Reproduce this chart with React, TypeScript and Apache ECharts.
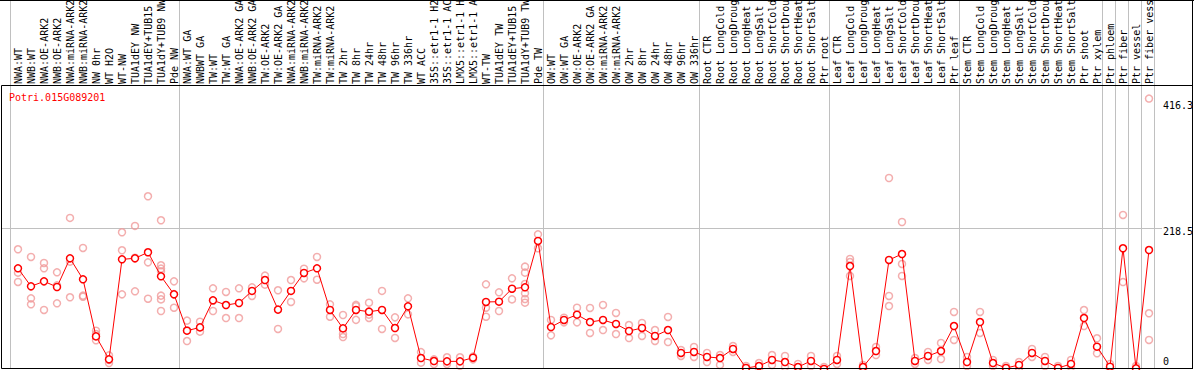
import React, { useEffect, useRef } from "react";
import * as echarts from "echarts";

const geneId = "Potri.015G089201";

const categories: string[] = [
  "NWA:WT", "NWB:WT", "NWA:OE-ARK2", "NWB:OE-ARK2", "NWA:miRNA-ARK2", "NWB:miRNA-ARK2",
  "NW 0hr", "WT H2O", "WT-NW", "TUA1dEY NW", "TUA1dEY+TUB15 NW", "TUA1dY+TUB9 NW", "Pde NW",
  "NWA:WT GA", "NWBWT GA", "TW:WT", "TW:WT GA", "NWA:OE-ARK2 GA", "NWB:OE-ARK2 GA",
  "TW:OE-ARK2", "TW:OE-ARK2 GA", "NWA:miRNA-ARK2 GA", "NWB:miRNA-ARK2 GA", "TW:miRNA-ARK2",
  "TW:miRNA-ARK2 GA", "TW 2hr", "TW 8hr", "TW 24hr", "TW 48hr", "TW 96hr", "TW 336hr",
  "WT ACC", "35S::etr1-1 H2O", "35S::etr1-1 ACC", "LMX5::etr1-1 H2O", "LMX5::etr1-1 ACC",
  "WT-TW", "TUA1dEY TW", "TUA1dEY+TUB15 TW", "TUA1dY+TUB9 TW", "Pde TW",
  "OW:WT", "OW:WT GA", "OW:OE-ARK2", "OW:OE-ARK2 GA", "OW:miRNA-ARK2", "OW:miRNA-ARK2 GA",
  "OW 2hr", "OW 8hr", "OW 24hr", "OW 48hr", "OW 96hr", "OW 336hr",
  "Root CTR", "Root LongCold", "Root LongDrought", "Root LongHeat", "Root LongSalt",
  "Root ShortCold", "Root ShortDrought", "Root ShortHeat", "Root ShortSalt", "Ptr root",
  "Leaf CTR", "Leaf LongCold", "Leaf LongDrought", "Leaf LongHeat", "Leaf LongSalt",
  "Leaf ShortCold", "Leaf ShortDrought", "Leaf ShortHeat", "Leaf ShortSalt", "Ptr leaf",
  "Stem CTR", "Stem LongCold", "Stem LongDrought", "Stem LongHeat", "Stem LongSalt",
  "Stem ShortCold", "Stem ShortDrought", "Stem ShortHeat", "Stem ShortSalt",
  "Ptr shoot", "Ptr xylem", "Ptr phloem", "Ptr fiber", "Ptr vessel", "Ptr fiber vessel",
];

const meanValues: number[] = [
  157.5, 130, 137.6, 129, 172.7, 140.7, 53.7, 18.7, 171.2, 172.7, 181.9, 145.3, 117.8,
  62.4, 67.4, 108.7, 101.5, 104.6, 123, 139.6, 94.5, 123, 150.4, 157.5, 94, 65.9, 94, 91.4,
  94, 66.4, 99.5, 20.7, 16.1, 15.6, 15.6, 21.2, 106.2, 106.6, 126.4, 128.5, 199.2,
  67.9, 78.7, 86.8, 75.6, 78.7, 72.6, 61.9, 66.5, 54.3, 63.4, 28.4, 29.9,
  22.3, 20.7, 34.5, 5.5, 8.5, 17.7, 14.6, 7, 16.2, 4,
  17.7, 161, 7, 31.4, 170.2, 179.3, 16.2, 23.8, 31.4, 69.5,
  14.6, 75.6, 13.1, 5.5, 10.1, 28.4, 16.2, 5.5, 11.6,
  81.7, 38, 7.5, 188, 5, 185.4,
];

const replicateValues: number[][] = [
  [186.5, 150.9, 136.7], [174.8, 111.7, 102.6], [165.6, 157.5, 94], [151.4, 131.5, 104.1],
  [234.3, 167.6, 113.3], [188.5, 115.8, 114.2], [62.4, 57.3, 47.7], [24.7, 17.7, 13.1],
  [212.4, 185, 117.8], [222.1, 173.7, 122.4], [267.3, 166.6, 111.1],
  [230.7, 162.1, 157, 153, 115.8, 110.1, 92.4], [137.6, 118.1, 97.4],
  [77.7, 63, 46.6], [76.1, 60.9], [127, 108, 92.4], [121.4, 81.7], [127, 81.7], [128.5, 115.3],
  [146.3, 132.6], [124, 65], [139.6, 106.2], [156.9, 142.2], [174.8, 140.1], [102.6, 83.7],
  [86.3, 57.3, 52.7], [101.7, 99.7, 78.9], [105.1, 86.8, 81.8], [123, 65], [82.7, 51.3],
  [111.7, 87.3], [29.8, 13.6], [18.7, 11.5], [21.8, 11.5], [21.8, 9], [22.8, 18.7],
  [133.1, 97.4, 83.7], [120.9, 92.4], [142.2, 110.1],
  [160, 150.9, 133.6, 119.4, 110.7, 105.1], [209.3, 188],
  [78.7, 55.3], [82.1, 75.1], [97.4, 75.1], [97, 58.9], [101.6, 63.4], [89.4, 57.3],
  [71, 51.2], [74.1, 54.3], [63.4, 46.7], [83.3, 45.1], [32.9, 23.8], [37.5, 22.3],
  [28.4, 14.6], [25.3, 10.1], [39, 29.9], [8.5, 2.4], [13.1, 4], [25.3, 10.1], [23.8, 7],
  [11.6, 2.4], [23.8, 8.5], [7, 2.4],
  [23.8, 11.6], [171.7, 167.1, 145.8], [10, 4], [37.5, 25.3], [295.2, 115.3, 100],
  [228.1, 164.1, 145.8], [20.7, 11.6], [29.9, 17.7], [43.6, 19.2], [90.9, 48.2],
  [22.3, 8.5], [90.9, 58.9], [17.7, 8.5], [8.5, 2.4], [14.6, 5.5], [34.5, 22.3], [22.3, 8.5],
  [8.5, 2.4], [17.7, 7],
  [93.9, 69.5], [50.8, 27.9], [11.6, 4], [238.8, 136.6], [8.5, 2.4], [416.3, 88.9, 48.2],
];

const yTickValues: number[] = [0, 218.5, 416.3];
const yGridValues: number[] = [218.5];
const yAxisMax = 437;
const groupBoundaries: number[] = [0, 13, 41, 53, 63, 73, 84, 85, 86, 87, 88];

const MONO = "'DejaVu Sans Mono', monospace";

export default function App() {
  const ref = useRef<HTMLDivElement>(null);

  useEffect(() => {
    if (!ref.current) return;
    const chart = echarts.init(ref.current, null, { renderer: "svg" });

    const repData: number[][] = [];
    replicateValues.forEach((arr, i) => arr.forEach((v) => repData.push([i, v])));

    chart.setOption({
      animation: false,
      grid: {
        left: 11.5,
        right: 38.5,
        top: 85,
        bottom: -1.6,
        containLabel: false,
        outerBoundsMode: "none",
      },
      xAxis: {
        type: "category",
        data: categories,
        position: "top",
        boundaryGap: true,
        axisLine: { show: false, onZero: false },
        axisTick: { show: false },
        splitLine: { show: false },
        axisLabel: { show: false },
      },
      yAxis: {
        type: "value",
        min: 0,
        max: yAxisMax,
        axisLine: { show: false },
        axisTick: { show: false },
        axisLabel: { show: false },
        splitLine: { show: false },
      },
      series: [
        {
          type: "scatter",
          data: repData,
          symbol: "circle",
          symbolSize: 7,
          clip: false,
          itemStyle: { color: "rgba(0,0,0,0)", borderColor: "#f09a9a", borderWidth: 1.5 },
          z: 2,
        },
        {
          type: "line",
          data: meanValues,
          symbol: "circle",
          symbolSize: 7,
          showAllSymbol: true,
          clip: false,
          lineStyle: { color: "#ff0000", width: 1 },
          itemStyle: { color: "#ffffff", borderColor: "#ff0000", borderWidth: 1.5 },
          z: 3,
        },
      ],
    });

    const xPix = (i: number) => chart.convertToPixel({ xAxisIndex: 0 }, i) as number;
    const c0 = xPix(0);
    const band = xPix(1) - c0;
    const boundaryX = (k: number) => c0 - band / 2 + k * band;
    const yPix = (v: number) => chart.convertToPixel({ yAxisIndex: 0 }, v) as number;

    const graphics: any[] = [];
    groupBoundaries.forEach((k) => {
      const x = Math.round(boundaryX(k) - 1.5) + 0.5;
      graphics.push({
        type: "line",
        z: 0,
        shape: { x1: x, y1: 0, x2: x, y2: 368 },
        style: { stroke: "#c0c0c0", lineWidth: 1 },
      });
    });
    yGridValues.forEach((v) => {
      const y = Math.round(yPix(v) - 0.5) + 0.5;
      graphics.push({
        type: "line",
        z: 0,
        shape: { x1: 1.5, y1: y, x2: 1162, y2: y },
        style: { stroke: "#c0c0c0", lineWidth: 1 },
      });
    });
    categories.forEach((name, i) => {
      graphics.push({
        type: "text",
        z: 50,
        x: xPix(i),
        y: 84,
        rotation: Math.PI / 2,
        style: {
          text: name,
          fill: "#000",
          fontFamily: MONO,
          fontSize: 10,
          align: "left",
          verticalAlign: "middle",
          width: 89,
          overflow: "truncate",
          ellipsis: "",
        },
      });
    });
    graphics.push({
      type: "line",
      z: 50,
      shape: { x1: 0, y1: 0.5, x2: 1194, y2: 0.5 },
      style: { stroke: "#000", lineWidth: 1 },
    });
    graphics.push({
      type: "line",
      z: 50,
      shape: { x1: 1192.5, y1: 0, x2: 1192.5, y2: 369 },
      style: { stroke: "#000", lineWidth: 1 },
    });
    graphics.push({
      type: "rect",
      z: 50,
      shape: { x: 1.5, y: 85.5, width: 1191, height: 283 },
      style: { fill: "none", stroke: "#000", lineWidth: 1 },
    });
    graphics.push({
      type: "text",
      z: 50,
      x: 9,
      y: 97.5,
      style: {
        text: geneId,
        fill: "#ff0000",
        fontFamily: MONO,
        fontSize: 10,
        verticalAlign: "middle",
        align: "left",
      },
    });
    yTickValues.forEach((v) => {
      const top = Math.min(Math.max(yPix(v) - 2, 100), 356);
      graphics.push({
        type: "text",
        z: 50,
        x: 1163,
        y: top,
        style: {
          text: String(v),
          fill: "#000",
          fontFamily: MONO,
          fontSize: 10,
          verticalAlign: "top",
          align: "left",
        },
      });
    });

    chart.setOption({ graphic: graphics });

    return () => chart.dispose();
  }, []);

  return (
    <div
      ref={ref}
      style={{ position: "fixed", left: 0, top: 0, width: 1194, height: 370, background: "#fff" }}
    />
  );
}
